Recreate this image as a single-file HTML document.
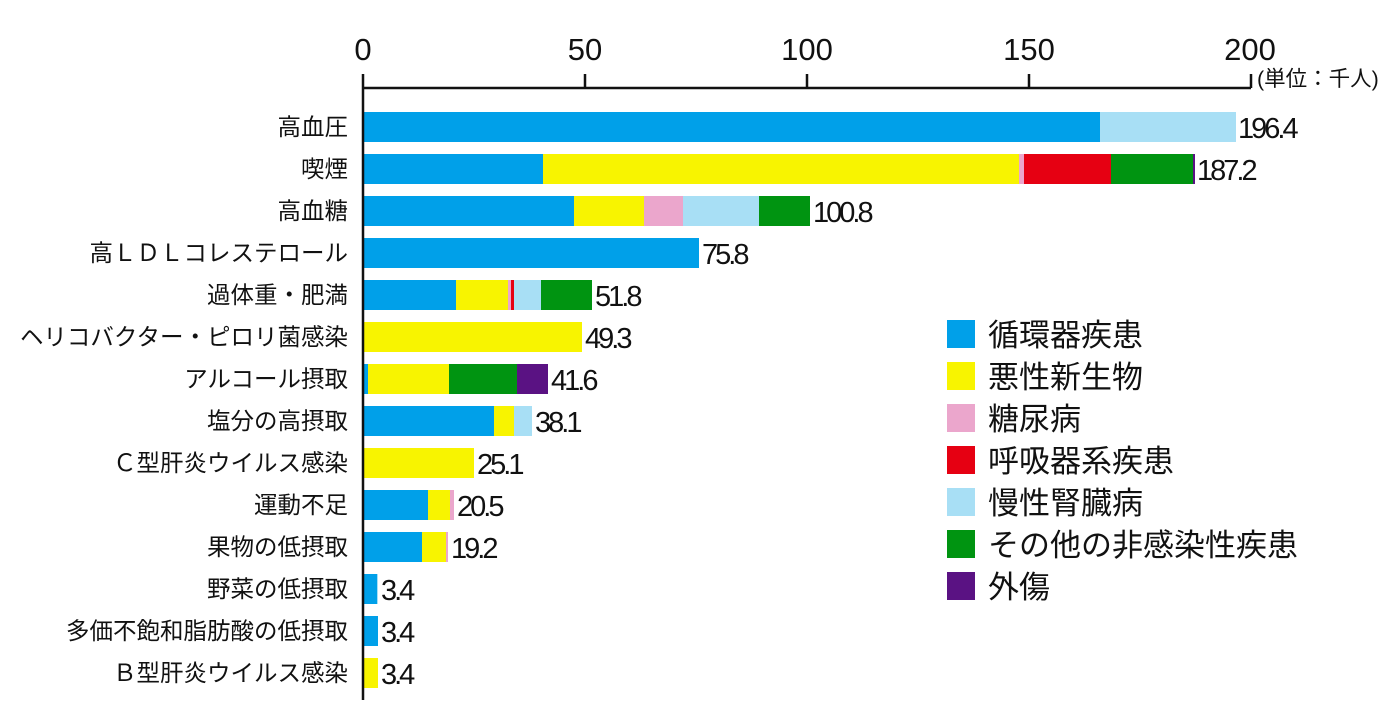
<!DOCTYPE html>
<html><head><meta charset="utf-8"><style>
body{margin:0;background:#fff;}
svg text{font-family:"Liberation Sans","Noto Sans CJK JP",sans-serif;}
</style></head><body>
<svg width="1400" height="700" xmlns="http://www.w3.org/2000/svg">
<g font-size="31" fill="#111" text-anchor="middle">
<text x="363" y="60">0</text><text x="585" y="60">50</text><text x="807" y="60">100</text><text x="1029" y="60">150</text><text x="1250" y="60">200</text>
</g>
<text x="1257" y="86" font-size="21.5" fill="#111">(単位：千人)</text>
<g>
<rect x="363" y="112" width="737" height="30" fill="#00a0e9"/><rect x="1100" y="112" width="136" height="30" fill="#a8dff5"/>
<rect x="363" y="154" width="180" height="30" fill="#00a0e9"/><rect x="543" y="154" width="476" height="30" fill="#f8f400"/><rect x="1019" y="154" width="5" height="30" fill="#eba6cc"/><rect x="1024" y="154" width="87" height="30" fill="#e60012"/><rect x="1111" y="154" width="82" height="30" fill="#009411"/><rect x="1193" y="154" width="2" height="30" fill="#5a1283"/>
<rect x="363" y="196" width="211" height="30" fill="#00a0e9"/><rect x="574" y="196" width="70" height="30" fill="#f8f400"/><rect x="644" y="196" width="39" height="30" fill="#eba6cc"/><rect x="683" y="196" width="76" height="30" fill="#a8dff5"/><rect x="759" y="196" width="51" height="30" fill="#009411"/>
<rect x="363" y="238" width="336" height="30" fill="#00a0e9"/>
<rect x="363" y="280" width="93" height="30" fill="#00a0e9"/><rect x="456" y="280" width="52" height="30" fill="#f8f400"/><rect x="508" y="280" width="3" height="30" fill="#eba6cc"/><rect x="511" y="280" width="3" height="30" fill="#e60012"/><rect x="514" y="280" width="27" height="30" fill="#a8dff5"/><rect x="541" y="280" width="51" height="30" fill="#009411"/>
<rect x="363" y="322" width="219" height="30" fill="#f8f400"/>
<rect x="363" y="364" width="5" height="30" fill="#00a0e9"/><rect x="368" y="364" width="81" height="30" fill="#f8f400"/><rect x="449" y="364" width="68" height="30" fill="#009411"/><rect x="517" y="364" width="31" height="30" fill="#5a1283"/>
<rect x="363" y="406" width="131" height="30" fill="#00a0e9"/><rect x="494" y="406" width="20" height="30" fill="#f8f400"/><rect x="514" y="406" width="18" height="30" fill="#a8dff5"/>
<rect x="363" y="448" width="111" height="30" fill="#f8f400"/>
<rect x="363" y="490" width="65" height="30" fill="#00a0e9"/><rect x="428" y="490" width="22" height="30" fill="#f8f400"/><rect x="450" y="490" width="4" height="30" fill="#eba6cc"/>
<rect x="363" y="532" width="59" height="30" fill="#00a0e9"/><rect x="422" y="532" width="24" height="30" fill="#f8f400"/><rect x="446" y="532" width="2" height="30" fill="#eba6cc"/>
<rect x="363" y="574" width="14" height="30" fill="#00a0e9"/><rect x="377" y="574" width="1" height="30" fill="#a8dff5"/>
<rect x="363" y="616" width="15" height="30" fill="#00a0e9"/>
<rect x="363" y="658" width="15" height="30" fill="#f8f400"/>
</g>
<g stroke="#111" stroke-width="2.5" fill="none">
<path d="M363 74V700M363 88H1251M585 74V88M807 74V88M1029 74V88M1251 74V88"/>
</g>
<g font-size="23.5" fill="#111" text-anchor="end">
<text x="348" y="135">高血圧</text>
<text x="348" y="177">喫煙</text>
<text x="348" y="219">高血糖</text>
<text x="348" y="261">高ＬＤＬコレステロール</text>
<text x="348" y="303">過体重・肥満</text>
<text x="348" y="345">ヘリコバクター・ピロリ菌感染</text>
<text x="348" y="387">アルコール摂取</text>
<text x="348" y="429">塩分の高摂取</text>
<text x="348" y="471">Ｃ型肝炎ウイルス感染</text>
<text x="348" y="513">運動不足</text>
<text x="348" y="555">果物の低摂取</text>
<text x="348" y="597">野菜の低摂取</text>
<text x="348" y="639">多価不飽和脂肪酸の低摂取</text>
<text x="348" y="681">Ｂ型肝炎ウイルス感染</text>
</g>
<g font-size="29" fill="#111" letter-spacing="-3">
<text x="1238" y="138">196.4</text>
<text x="1197" y="180">187.2</text>
<text x="813" y="222">100.8</text>
<text x="702" y="264">75.8</text>
<text x="595" y="306">51.8</text>
<text x="585" y="348">49.3</text>
<text x="551" y="390">41.6</text>
<text x="535" y="432">38.1</text>
<text x="477" y="474">25.1</text>
<text x="457" y="516">20.5</text>
<text x="451" y="558">19.2</text>
<text x="381" y="600">3.4</text>
<text x="381" y="642">3.4</text>
<text x="381" y="684">3.4</text>
</g>
<g font-size="31" fill="#111">
<rect x="947" y="320" width="28" height="28" fill="#00a0e9"/><text x="988" y="346">循環器疾患</text>
<rect x="947" y="362" width="28" height="28" fill="#f8f400"/><text x="988" y="388">悪性新生物</text>
<rect x="947" y="404" width="28" height="28" fill="#eba6cc"/><text x="988" y="430">糖尿病</text>
<rect x="947" y="446" width="28" height="28" fill="#e60012"/><text x="988" y="472">呼吸器系疾患</text>
<rect x="947" y="488" width="28" height="28" fill="#a8dff5"/><text x="988" y="514">慢性腎臓病</text>
<rect x="947" y="530" width="28" height="28" fill="#009411"/><text x="988" y="556">その他の非感染性疾患</text>
<rect x="947" y="572" width="28" height="28" fill="#5a1283"/><text x="988" y="598">外傷</text>
</g>
</svg>
</body></html>
